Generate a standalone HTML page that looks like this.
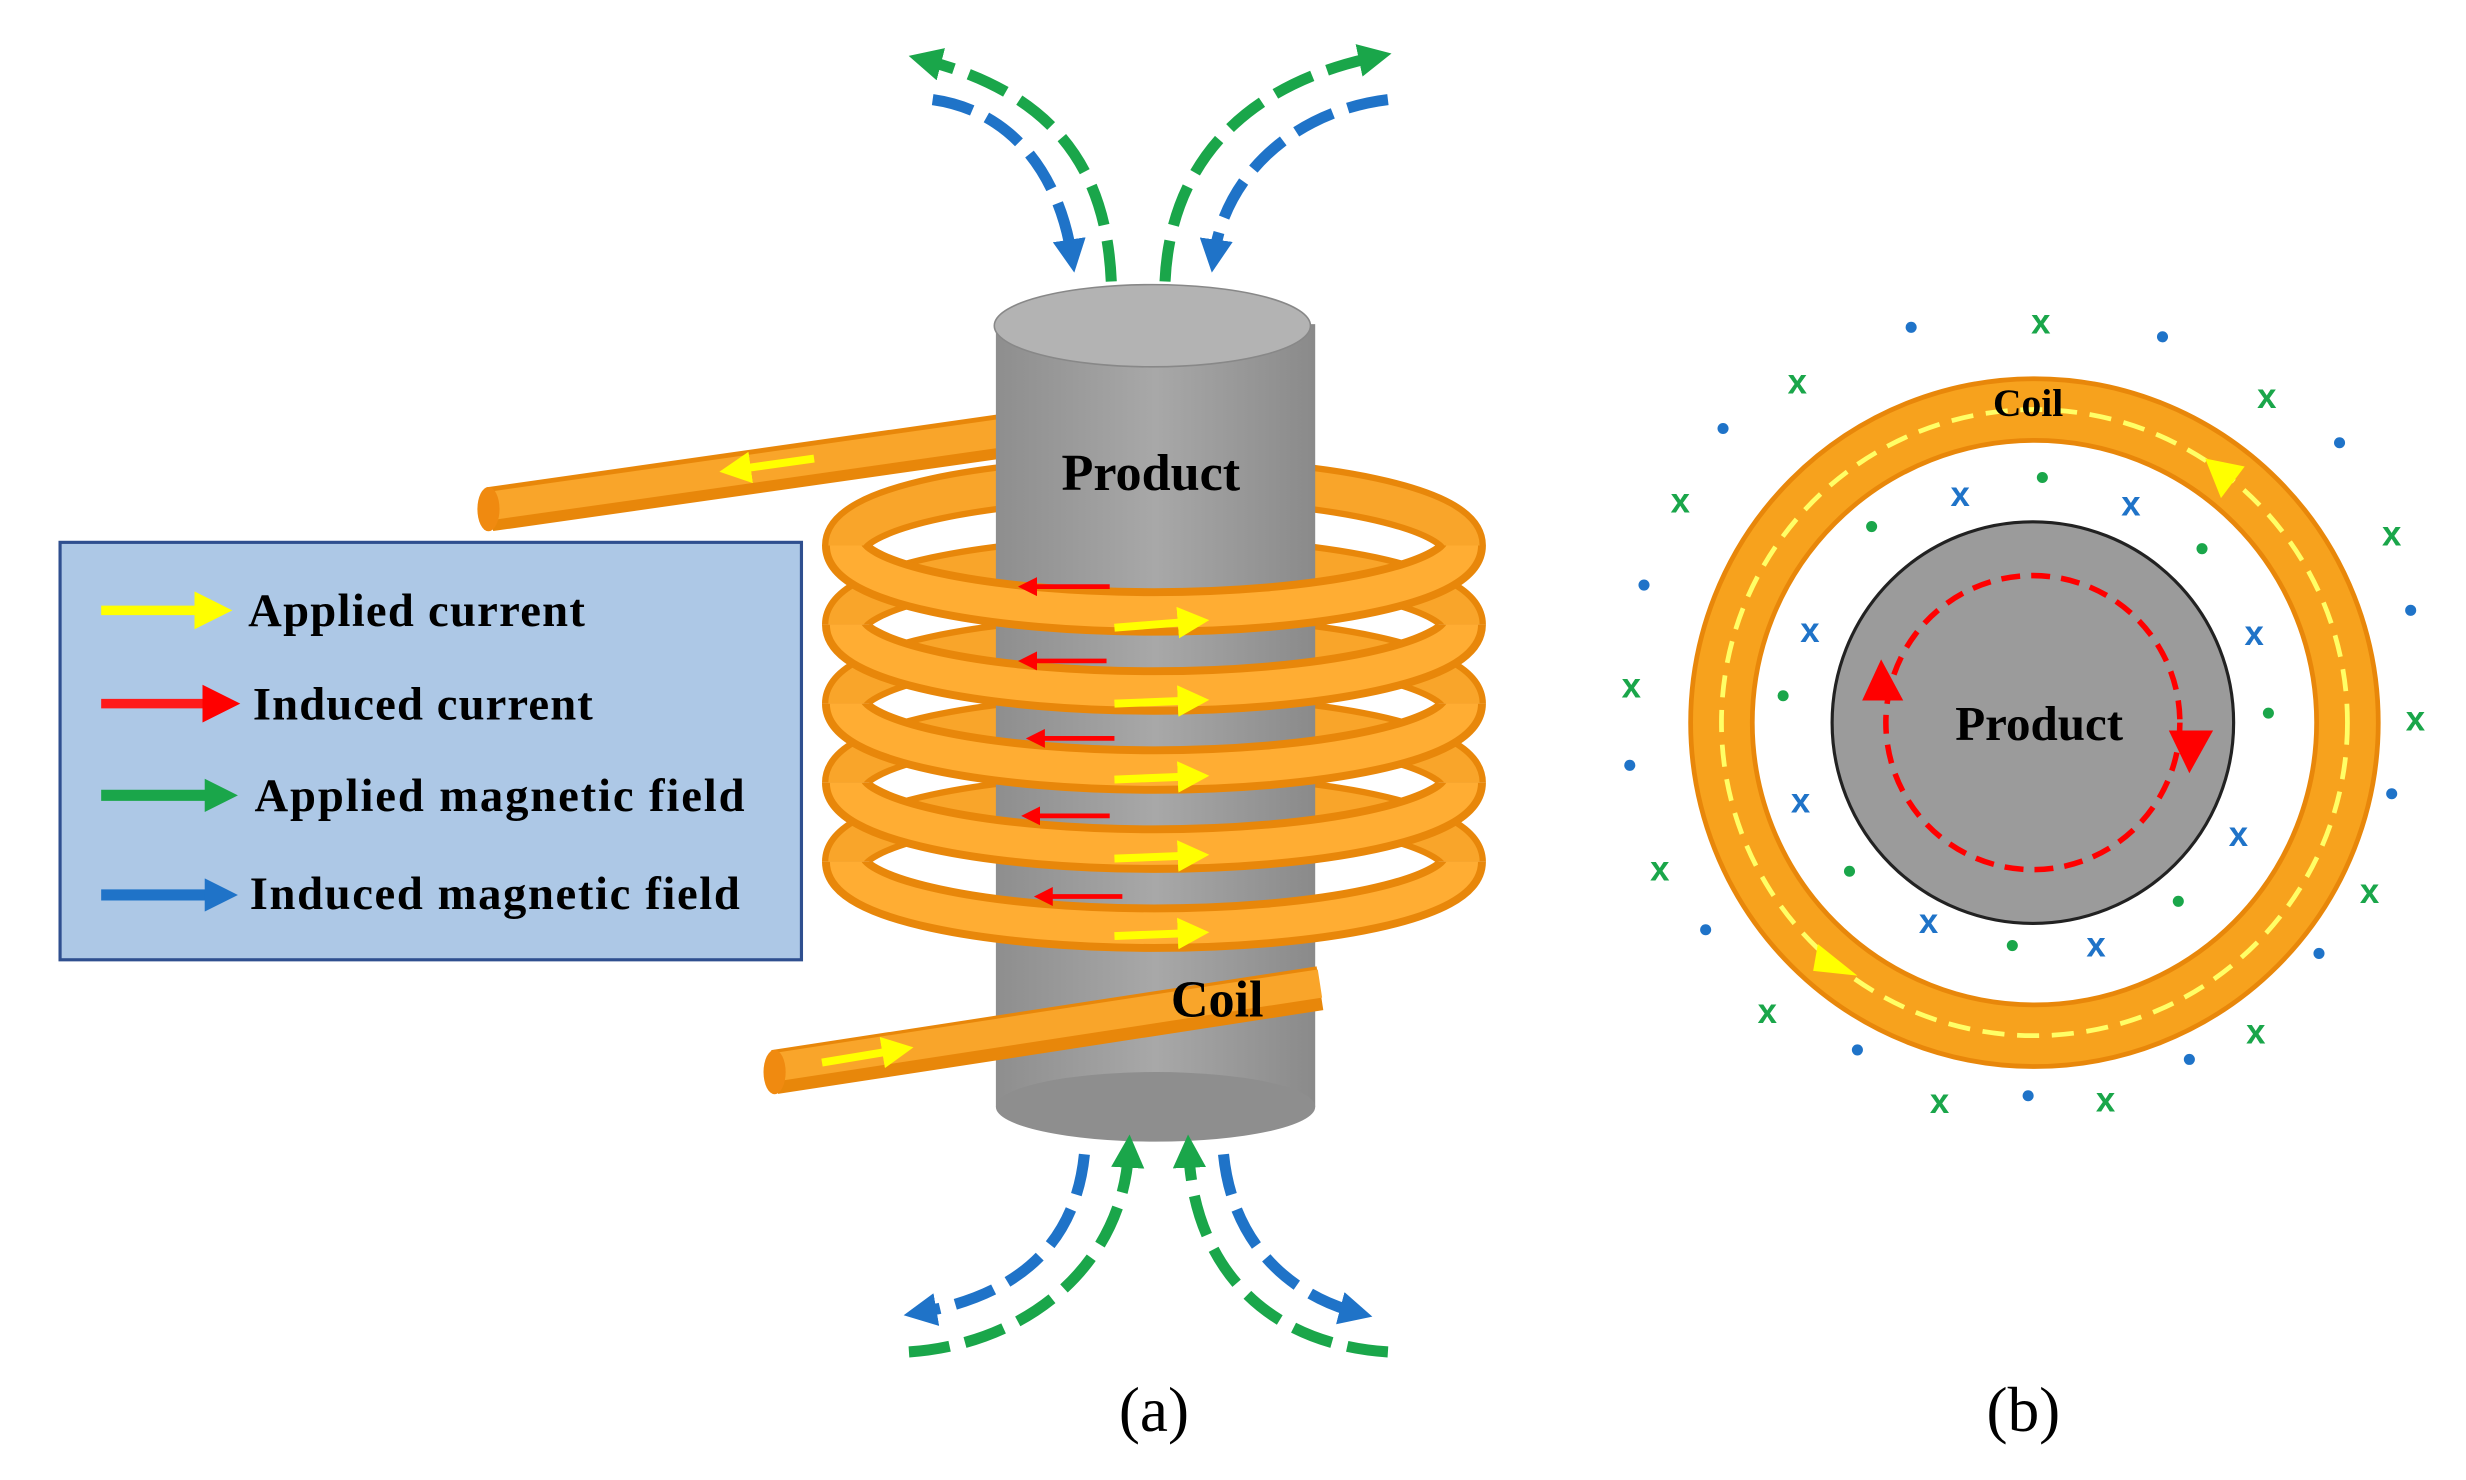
<!DOCTYPE html>
<html><head><meta charset="utf-8"><style>
html,body{margin:0;padding:0;background:#fff;width:2466px;height:1480px;overflow:hidden}
svg{display:block}
text{font-family:"Liberation Serif",serif;font-weight:bold}
text.s{font-family:"Liberation Sans",sans-serif;font-weight:bold}
text.n{font-weight:normal}
</style></head><body>
<svg width="2466" height="1480" viewBox="0 0 1560 936" preserveAspectRatio="none" xmlns="http://www.w3.org/2000/svg">
<defs>
<marker id="ay" markerWidth="4" markerHeight="4" refX="2" refY="2" orient="auto"><path d="M0,0L4,2L0,4z" fill="#ffff00"/></marker>
<marker id="ar" markerWidth="4" markerHeight="4" refX="2" refY="2" orient="auto"><path d="M0,0L4,2L0,4z" fill="#ff0000"/></marker>
<marker id="ag" markerWidth="3" markerHeight="3" refX="1.5" refY="1.5" orient="auto"><path d="M0,0L3,1.5L0,3z" fill="#1aa64a"/></marker>
<marker id="ab" markerWidth="3" markerHeight="3" refX="1.5" refY="1.5" orient="auto"><path d="M0,0L3,1.5L0,3z" fill="#1f73c8"/></marker>
<linearGradient id="cyl" x1="0" x2="1"><stop offset="0" stop-color="#8e8e8e"/><stop offset="0.5" stop-color="#a8a8a8"/><stop offset="1" stop-color="#8a8a8a"/></linearGradient>
</defs>

<g fill="none" stroke="#e8870a" stroke-width="30">
<path d="M535,345 A195,42 0 0 1 925,345"/>
<path d="M535,395 A195,42 0 0 1 925,395"/>
<path d="M535,445 A195,42 0 0 1 925,445"/>
<path d="M535,495 A195,42 0 0 1 925,495"/>
<path d="M535,545 A195,42 0 0 1 925,545"/>
</g>
<g fill="none" stroke="#f9a52a" stroke-width="22">
<path d="M535,345 A195,42 0 0 1 925,345"/>
<path d="M535,395 A195,42 0 0 1 925,395"/>
<path d="M535,445 A195,42 0 0 1 925,445"/>
<path d="M535,495 A195,42 0 0 1 925,495"/>
<path d="M535,545 A195,42 0 0 1 925,545"/>
</g>
<line x1="310" y1="322" x2="640" y2="275" stroke="#e8870a" stroke-width="28"/>
<line x1="310" y1="320" x2="640" y2="273" stroke="#f9a52a" stroke-width="18"/>
<ellipse cx="309" cy="322" rx="7" ry="14" fill="#f08a10"/>

<rect x="630" y="205" width="202" height="495" fill="url(#cyl)"/>
<ellipse cx="731" cy="700" rx="101" ry="22" fill="#8e8e8e"/>
<ellipse cx="729" cy="206" rx="100" ry="26" fill="#b3b3b3" stroke="#888" stroke-width="1"/>
<text x="728" y="310" font-size="33" text-anchor="middle">Product</text>

<g fill="none" stroke="#e8870a" stroke-width="30">
<path d="M535,345 A195,42 0 0 0 925,345"/>
<path d="M535,395 A195,42 0 0 0 925,395"/>
<path d="M535,445 A195,42 0 0 0 925,445"/>
<path d="M535,495 A195,42 0 0 0 925,495"/>
<path d="M535,545 A195,42 0 0 0 925,545"/>
</g>
<g fill="none" stroke="#ffad33" stroke-width="20">
<path d="M535,345 A195,42 0 0 0 925,345"/>
<path d="M535,395 A195,42 0 0 0 925,395"/>
<path d="M535,445 A195,42 0 0 0 925,445"/>
<path d="M535,495 A195,42 0 0 0 925,495"/>
<path d="M535,545 A195,42 0 0 0 925,545"/>
</g>
<line x1="490" y1="678" x2="835" y2="625" stroke="#e8870a" stroke-width="28"/>
<line x1="490" y1="675" x2="835" y2="622" stroke="#f9a52a" stroke-width="18"/>
<ellipse cx="490" cy="678" rx="7" ry="14" fill="#f08a10"/>
<text x="770" y="643" font-size="33" text-anchor="middle">Coil</text>

<g stroke="#ffff00" stroke-width="5" marker-end="url(#ay)">
<line x1="515" y1="290" x2="465" y2="297"/>
<line x1="520" y1="672" x2="568" y2="664"/>
<line x1="705" y1="397" x2="755" y2="393"/>
<line x1="705" y1="445" x2="755" y2="443"/>
<line x1="705" y1="493" x2="755" y2="491"/>
<line x1="705" y1="543" x2="755" y2="541"/>
<line x1="705" y1="592" x2="755" y2="590"/>
</g>
<g stroke="#ff0000" stroke-width="3" marker-end="url(#ar)">
<line x1="702" y1="371" x2="650" y2="371"/>
<line x1="700" y1="418" x2="650" y2="418"/>
<line x1="705" y1="467" x2="655" y2="467"/>
<line x1="702" y1="516" x2="652" y2="516"/>
<line x1="710" y1="567" x2="660" y2="567"/>
</g>

<rect x="38" y="343" width="469" height="264" fill="#adc8e6" stroke="#2f4f8f" stroke-width="2"/>
<line x1="64" y1="386" x2="135" y2="386" stroke="#ffff00" stroke-width="6" marker-end="url(#ay)"/>
<line x1="64" y1="445" x2="140" y2="445" stroke="#ff1a1a" stroke-width="6" marker-end="url(#ar)"/>
<line x1="64" y1="503" x2="140" y2="503" stroke="#1aa64a" stroke-width="7" marker-end="url(#ag)"/>
<line x1="64" y1="566" x2="140" y2="566" stroke="#1f73c8" stroke-width="7" marker-end="url(#ab)"/>
<g font-size="29.5">
<text x="157" y="396" textLength="213">Applied current</text>
<text x="160" y="455" textLength="215">Induced current</text>
<text x="161" y="513" textLength="310">Applied magnetic field</text>
<text x="158" y="575" textLength="310">Induced magnetic field</text>
</g>

<g fill="none" stroke-width="7" stroke-dasharray="26,10">
<path d="M703,178 C700,110 670,60 585,38" stroke="#1aa64a" marker-end="url(#ag)"/>
<path d="M737,178 C740,110 780,55 870,36" stroke="#1aa64a" marker-end="url(#ag)"/>
<path d="M590,63 C640,70 670,110 678,162" stroke="#1f73c8" marker-end="url(#ab)"/>
<path d="M878,63 C820,70 775,110 768,162" stroke="#1f73c8" marker-end="url(#ab)"/>
<path d="M575,855 C650,850 710,800 714,728" stroke="#1aa64a" marker-end="url(#ag)"/>
<path d="M878,855 C800,850 755,800 752,728" stroke="#1aa64a" marker-end="url(#ag)"/>
<path d="M686,730 C680,790 640,820 582,830" stroke="#1f73c8" marker-end="url(#ab)"/>
<path d="M774,730 C780,790 820,820 858,830" stroke="#1f73c8" marker-end="url(#ab)"/>
</g>

<circle cx="1287" cy="457" r="198" fill="none" stroke="#e8870a" stroke-width="42"/>
<circle cx="1287" cy="457" r="198" fill="none" stroke="#f7a21d" stroke-width="36"/>
<circle cx="1287" cy="457" r="198" fill="none" stroke="#ffff66" stroke-width="3" stroke-dasharray="14,8"/>
<path d="M1150,597 l25,20 l-28,-3z" fill="#ffff00"/>
<path d="M1420,295 l-25,-5 l10,25z" fill="#ffff00"/>
<circle cx="1286" cy="457" r="127" fill="#9b9b9b" stroke="#222" stroke-width="2"/>
<circle cx="1286" cy="457" r="93" fill="none" stroke="#ff0000" stroke-width="3.5" stroke-dasharray="12,7"/>
<path d="M1178,443 l12,-26 l14,26z" fill="#ff0000"/>
<path d="M1372,462 l28,0 l-15,27z" fill="#ff0000"/>
<text x="1290" y="468" font-size="31" text-anchor="middle">Product</text>
<text x="1283" y="263" font-size="25" text-anchor="middle">Coil</text>
<g font-size="22" text-anchor="middle" fill="#1aa64a">
<text class="s" x="1291" y="211">x</text><text class="s" x="1137" y="249">x</text><text class="s" x="1434" y="258">x</text>
<text class="s" x="1063" y="324">x</text><text class="s" x="1513" y="345">x</text><text class="s" x="1032" y="441">x</text>
<text class="s" x="1528" y="462">x</text><text class="s" x="1050" y="557">x</text><text class="s" x="1499" y="571">x</text>
<text class="s" x="1118" y="647">x</text><text class="s" x="1427" y="660">x</text><text class="s" x="1227" y="704">x</text><text class="s" x="1332" y="703">x</text>
</g>
<g font-size="22" text-anchor="middle" fill="#1f73c8">
<text class="s" x="1240" y="320">x</text><text class="s" x="1348" y="326">x</text><text class="s" x="1145" y="406">x</text>
<text class="s" x="1426" y="408">x</text><text class="s" x="1139" y="514">x</text><text class="s" x="1416" y="535">x</text>
<text class="s" x="1220" y="590">x</text><text class="s" x="1326" y="605">x</text>
</g>
<g fill="#1f73c8">
<circle cx="1209" cy="207" r="3.5"/><circle cx="1368" cy="213" r="3.5"/><circle cx="1090" cy="271" r="3.5"/>
<circle cx="1480" cy="280" r="3.5"/><circle cx="1040" cy="370" r="3.5"/><circle cx="1525" cy="386" r="3.5"/>
<circle cx="1031" cy="484" r="3.5"/><circle cx="1513" cy="502" r="3.5"/><circle cx="1079" cy="588" r="3.5"/>
<circle cx="1467" cy="603" r="3.5"/><circle cx="1175" cy="664" r="3.5"/><circle cx="1385" cy="670" r="3.5"/>
<circle cx="1283" cy="693" r="3.5"/>
</g>
<g fill="#1aa64a">
<circle cx="1292" cy="302" r="3.5"/><circle cx="1184" cy="333" r="3.5"/><circle cx="1393" cy="347" r="3.5"/>
<circle cx="1128" cy="440" r="3.5"/><circle cx="1435" cy="451" r="3.5"/><circle cx="1170" cy="551" r="3.5"/>
<circle cx="1378" cy="570" r="3.5"/><circle cx="1273" cy="598" r="3.5"/>
</g>

<text class="n" x="730" y="905" font-size="40" text-anchor="middle">(a)</text>
<text class="n" x="1280" y="905" font-size="40" text-anchor="middle">(b)</text>
</svg>
</body></html>
